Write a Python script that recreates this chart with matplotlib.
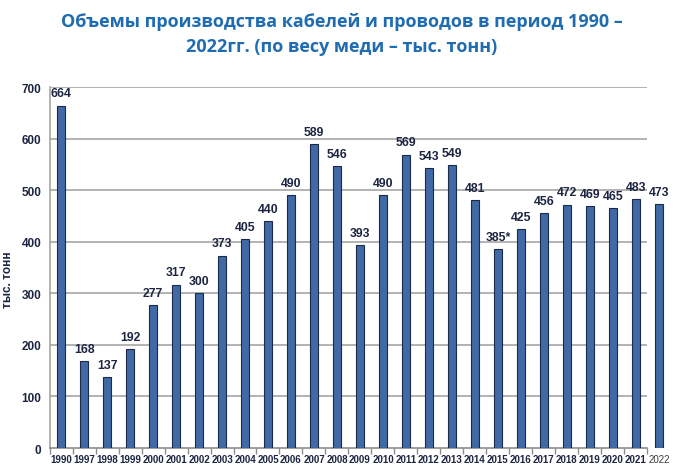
import numpy as np
import matplotlib.pyplot as plt

# Данные: объемы производства (тыс. тонн по весу меди)
years = ['1990', '1997', '1998', '1999', '2000', '2001', '2002', '2003', '2004',
         '2005', '2006', '2007', '2008', '2009', '2010', '2011', '2012', '2013',
         '2014', '2015', '2016', '2017', '2018', '2019', '2020', '2021', '2022']
volumes = [664, 168, 137, 192, 277, 317, 300, 373, 405, 440, 490, 589, 546, 393,
           490, 569, 543, 549, 481, 385, 425, 456, 472, 469, 465, 483, 473]
value_labels = [str(v) for v in volumes]
value_labels[years.index('2015')] = '385*'

yticks = [0, 100, 200, 300, 400, 500, 600, 700]

title_color = '#1f6cb0'
text_color = '#1c2541'
bar_color = '#4169a6'
grid_color = '#a6a6a6'

fig = plt.figure(figsize=(6.84, 4.77), dpi=100)
ax = fig.add_axes([0.0725, 0.0587, 0.9075, 0.7568])

x = np.arange(len(years))
n_main = len(years) - 1  # 2022 стоит за рамкой сетки

ax.set_xlim(-0.5, len(years) - 0.5)
ax.set_ylim(0, 700)

# сетка только до 2021 года
ax.hlines(yticks[1:], -0.5, n_main - 0.5, colors=grid_color, linewidth=1.2, zorder=1)

ax.bar(x, volumes, width=0.33, color=bar_color, edgecolor='#1b2a48',
       linewidth=0.8, zorder=3)

for xi, v, lab in zip(x, volumes, value_labels):
    ax.text(xi, v + 12, lab, ha='center', va='bottom', fontsize=8.8,
            fontweight='bold', color=text_color, family='Liberation Sans')

for s in ['top', 'right']:
    ax.spines[s].set_visible(False)
ax.spines['left'].set_color(grid_color)
ax.spines['left'].set_linewidth(1.2)
ax.spines['bottom'].set_color('#8c8c8c')
ax.spines['bottom'].set_linewidth(1.2)
ax.spines['bottom'].set_bounds(-0.5, n_main - 0.5)

ax.set_yticks(yticks)
ax.set_yticklabels([str(t) for t in yticks], fontsize=8.5, fontweight='bold',
                   color=text_color, family='Liberation Sans')
ax.tick_params(axis='y', length=0, pad=6)

ax.set_xticks(x)
ax.set_xticklabels(years, fontsize=7, fontweight='bold', color=text_color,
                   family='Liberation Sans')
ax.get_xticklabels()[-1].set_fontweight('normal')
ax.get_xticklabels()[-1].set_color('#3a3a3a')
ax.tick_params(axis='x', length=0, pad=4)
ax.set_xticks(np.arange(-0.5, n_main, 1), minor=True)
ax.tick_params(axis='x', which='minor', length=4, color='#8c8c8c', width=1)

ax.set_ylabel('тыс. тонн', fontsize=8.5, fontweight='bold', color=text_color,
              family='Liberation Sans')
ax.yaxis.set_label_coords(-0.057, 0.47)

fig.text(0.5, 0.972, 'Объемы производства кабелей и проводов в период 1990 –\n'
         '2022гг. (по весу меди – тыс. тонн)', ha='center', va='top',
         fontsize=13, fontweight='bold', color=title_color, family='Open Sans',
         linespacing=1.45)

fig.savefig('out.png', dpi=100, facecolor='white')
